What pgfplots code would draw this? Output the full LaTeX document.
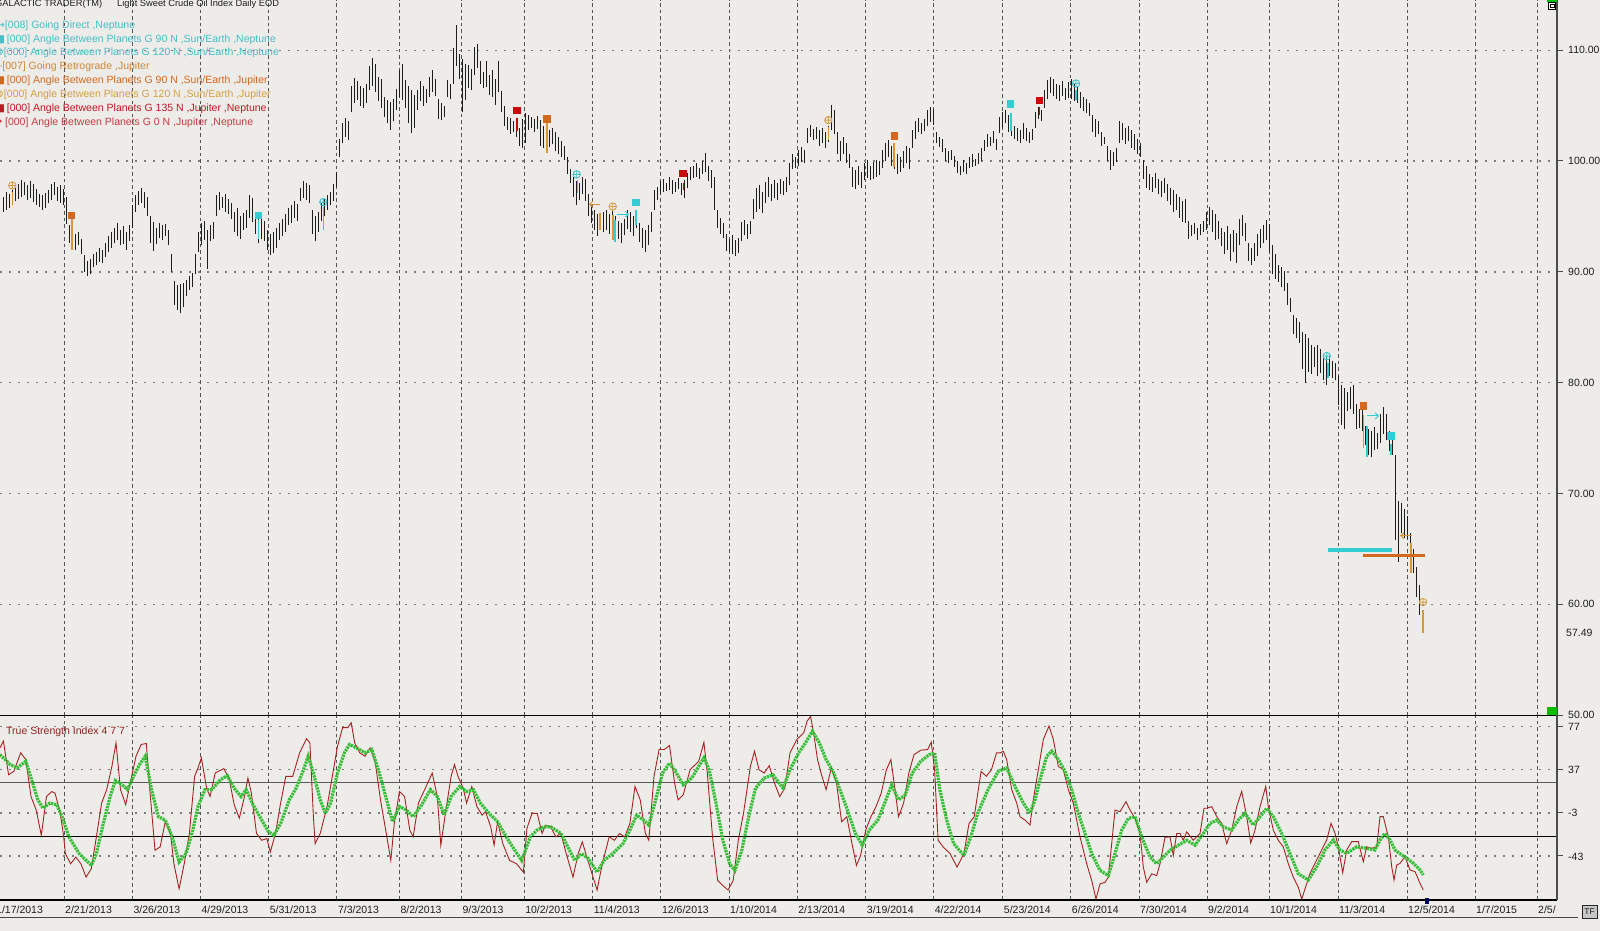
\documentclass[border=0pt]{standalone}
\usepackage{pgfplots}
\usepackage{pgfplotstable}
\pgfplotsset{compat=1.18}
\usetikzlibrary{arrows.meta}
\usepackage{fontspec}
\setmainfont{Liberation Sans}
\newfontfamily\symfont{DejaVu Sans}
\definecolor{bg}{RGB}{237,236,233}
\definecolor{gridc}{RGB}{85,85,85}
\definecolor{hgridc}{RGB}{125,125,125}
\definecolor{barc}{RGB}{30,30,30}
\definecolor{tsired}{RGB}{165,35,35}
\definecolor{tsigreen}{RGB}{55,190,55}
\definecolor{cyanM}{RGB}{51,204,210}
\definecolor{cyanT}{RGB}{70,190,200}
\definecolor{orgSq}{RGB}{210,105,30}
\definecolor{orgC}{RGB}{212,160,70}
\definecolor{orgLine}{RGB}{215,150,60}
\definecolor{orgT}{RGB}{208,135,55}
\definecolor{redSq}{RGB}{200,10,10}
\definecolor{redT}{RGB}{190,25,35}
\definecolor{txtc}{RGB}{30,30,30}

\pgfplotstableread{
i h l
1 96.8 95.4
2 97.2 95.6
3 97.0 95.8
4 97.4 96.0
5 97.6 96.4
6 97.9 96.6
7 98.3 96.8
8 98.1 96.9
9 97.8 96.5
10 98.2 96.7
11 97.9 96.3
12 97.5 96.0
13 97.0 95.9
14 96.9 95.6
15 97.1 95.8
16 97.4 96.2
17 97.9 96.5
18 98.1 96.9
19 97.7 96.4
20 97.8 96.2
21 97.5 96.0
22 96.8 94.3
23 94.2 92.6
24 93.8 92.2
25 93.4 92.0
26 93.6 92.4
27 93.0 91.6
28 91.5 90.0
29 91.0 89.6
30 91.2 89.8
31 91.6 90.4
32 91.8 90.6
33 92.2 90.9
34 92.0 90.8
35 92.6 91.3
36 93.2 91.8
37 93.6 92.2
38 94.0 92.6
39 94.4 92.9
40 93.8 92.4
41 94.1 92.5
42 93.6 92.0
43 94.2 92.8
44 96.0 94.0
45 96.9 95.4
46 97.3 96.0
47 97.6 96.2
48 97.2 95.8
49 96.8 95.0
50 95.0 92.6
51 94.5 91.9
52 94.0 92.5
53 94.4 93.1
54 94.2 92.9
55 94.3 93.2
56 93.8 92.4
57 91.6 90.0
58 89.2 87.0
59 88.8 86.6
60 88.9 86.3
61 89.0 86.8
62 89.3 87.8
63 89.6 88.4
64 89.9 88.6
65 91.6 89.8
66 93.6 91.8
67 94.4 92.4
68 94.6 92.9
69 93.8 90.3
70 94.2 92.8
71 94.5 93.0
72 96.9 95.0
73 97.2 95.6
74 96.8 95.8
75 97.0 95.4
76 96.6 95.2
77 96.2 94.8
78 95.4 93.6
79 95.8 93.2
80 95.0 93.0
81 95.3 93.8
82 95.6 94.0
83 96.9 94.9
84 96.7 94.5
85 95.0 93.4
86 95.3 92.6
87 95.0 93.0
88 94.6 92.8
89 93.8 92.0
90 93.4 91.5
91 93.6 91.7
92 94.0 92.2
93 94.4 92.9
94 94.8 93.2
95 95.2 93.6
96 95.8 94.2
97 96.0 94.4
98 96.4 94.9
99 96.1 94.6
100 97.6 96.4
101 98.2 96.7
102 98.0 96.5
103 97.8 96.2
104 95.6 93.4
105 95.0 92.8
106 95.4 93.6
107 96.2 94.6
108 96.6 95.0
109 96.9 95.6
110 97.2 96.0
111 97.9 96.4
112 99.0 97.7
113 102.0 100.4
114 103.4 101.6
115 103.9 102.2
116 103.6 101.9
117 106.8 104.4
118 107.5 105.2
119 107.2 105.5
120 106.8 105.0
121 106.6 104.8
122 107.0 105.2
123 108.6 106.4
124 109.3 106.8
125 108.8 106.2
126 107.6 105.4
127 107.4 104.8
128 105.8 104.0
129 105.5 103.4
130 105.3 102.8
131 105.6 103.6
132 106.5 104.6
133 108.2 105.8
134 108.8 105.5
135 107.3 104.8
136 106.8 103.4
137 106.4 102.5
138 106.0 103.0
139 106.4 104.6
140 107.2 105.4
141 106.8 105.0
142 106.5 105.2
143 107.6 105.8
144 108.2 106.2
145 107.4 105.9
146 105.6 103.8
147 105.2 103.7
148 105.0 104.0
149 107.3 105.8
150 107.0 105.6
151 110.2 107.0
152 112.3 108.6
153 109.7 107.4
154 109.2 104.4
155 108.8 105.5
156 108.7 106.6
157 108.3 106.4
158 110.3 107.8
159 110.6 108.4
160 109.0 107.0
161 108.0 106.6
162 109.0 106.7
163 107.8 106.0
164 108.2 105.8
165 107.4 105.1
166 109.0 106.2
167 106.3 104.4
168 105.0 103.2
169 104.0 102.8
170 103.9 102.4
171 103.6 102.6
172 103.3 102.2
173 103.0 101.4
174 103.8 101.2
175 104.3 101.6
176 104.2 102.8
177 104.0 103.0
178 103.8 102.6
179 104.1 102.9
180 103.7 101.4
181 103.2 101.2
182 103.6 101.9
183 102.8 101.3
184 103.0 101.5
185 102.6 100.9
186 102.2 100.6
187 101.8 100.4
188 101.4 100.1
189 100.4 98.8
190 99.3 98.0
191 98.6 96.8
192 98.2 96.0
193 98.0 96.5
194 98.6 97.0
195 98.4 96.4
196 97.0 95.0
197 96.0 94.4
198 95.6 93.8
199 95.2 93.2
200 95.0 94.0
201 95.4 93.6
202 95.6 93.8
203 95.2 93.4
204 95.5 93.0
205 95.0 92.8
206 94.6 93.0
207 94.4 92.6
208 94.8 93.3
209 95.6 93.9
210 95.4 93.6
211 95.0 93.2
212 95.6 94.0
213 94.4 92.7
214 94.0 92.2
215 93.8 91.8
216 94.2 92.4
217 95.4 93.6
218 97.4 95.6
219 97.7 96.5
220 98.2 97.0
221 98.4 97.2
222 98.0 97.3
223 98.6 97.4
224 98.3 97.0
225 98.1 97.2
226 98.5 97.5
227 98.0 96.9
228 98.3 96.7
229 98.9 97.6
230 99.5 98.3
231 99.6 98.5
232 99.8 98.6
233 99.4 98.4
234 100.0 98.8
235 100.7 99.0
236 99.6 98.2
237 99.2 97.6
238 98.6 95.6
239 95.6 94.0
240 94.9 93.4
241 94.4 93.1
242 93.4 91.9
243 93.0 91.8
244 93.3 91.6
245 92.9 91.4
246 93.1 91.7
247 94.5 92.8
248 94.7 93.3
249 94.3 93.0
250 94.6 93.4
251 96.6 94.8
252 97.6 95.4
253 97.8 95.7
254 97.2 95.3
255 98.1 96.2
256 98.6 96.8
257 97.9 96.4
258 98.3 96.7
259 98.0 96.5
260 98.4 97.0
261 98.2 96.9
262 98.6 97.2
263 99.8 97.8
264 100.6 99.3
265 100.4 99.4
266 101.0 99.6
267 101.3 99.9
268 101.0 99.8
269 103.0 101.6
270 103.3 102.2
271 102.9 101.9
272 103.1 102.0
273 102.8 101.4
274 103.0 101.6
275 102.6 101.2
276 103.2 101.7
277 105.1 102.8
278 104.6 102.4
279 102.6 100.6
280 101.8 100.0
281 102.2 100.6
282 101.6 99.8
283 100.6 99.4
284 99.5 97.7
285 99.2 97.5
286 99.6 97.8
287 99.0 97.6
288 99.8 98.3
289 100.1 98.5
290 99.6 98.3
291 99.9 98.4
292 100.1 98.6
293 100.0 98.7
294 101.0 99.4
295 101.6 100.0
296 101.9 100.4
297 101.4 99.6
298 101.2 99.3
299 100.6 98.8
300 100.4 99.0
301 100.9 99.4
302 101.4 99.8
303 101.2 99.3
304 102.8 101.2
305 103.6 102.0
306 103.9 102.6
307 103.4 102.4
308 103.8 102.7
309 104.6 103.2
310 104.9 103.5
311 104.7 103.3
312 102.6 101.6
313 102.2 101.3
314 102.0 100.8
315 101.2 100.0
316 100.9 99.8
317 101.0 100.1
318 100.5 99.5
319 100.0 98.9
320 99.6 98.7
321 100.1 99.0
322 99.8 98.8
323 100.4 99.4
324 100.6 99.5
325 100.2 99.6
326 100.7 99.7
327 101.2 100.0
328 101.9 100.9
329 102.4 101.3
330 102.2 101.4
331 102.7 101.6
332 102.0 101.0
333 104.0 102.5
334 104.4 103.0
335 104.6 103.4
336 104.2 102.6
337 103.6 102.3
338 103.2 102.0
339 103.0 101.8
340 102.8 101.6
341 103.4 102.0
342 103.0 101.8
343 102.6 101.6
344 102.9 101.9
345 104.4 103.0
346 104.9 103.8
347 104.6 103.6
348 106.4 104.8
349 107.3 105.6
350 107.6 106.1
351 107.4 105.9
352 107.0 105.6
353 106.9 105.4
354 107.2 105.9
355 106.6 105.5
356 107.1 105.7
357 107.4 105.6
358 107.0 105.4
359 106.8 105.2
360 106.2 104.8
361 105.8 104.5
362 105.6 104.3
363 105.2 104.1
364 104.2 102.6
365 103.8 102.2
366 103.6 102.4
367 102.6 101.4
368 102.2 101.5
369 101.4 100.0
370 101.0 99.2
371 100.8 99.6
372 101.2 99.9
373 103.6 101.6
374 103.4 101.9
375 103.0 101.5
376 103.2 101.8
377 102.8 101.2
378 102.4 101.0
379 102.0 100.6
380 101.6 100.4
381 100.1 98.4
382 99.6 97.6
383 98.8 97.4
384 98.6 97.2
385 98.9 97.6
386 98.4 97.0
387 98.2 96.8
388 98.5 97.1
389 97.9 96.4
390 97.6 96.0
391 97.4 95.4
392 97.0 95.6
393 96.8 94.9
394 96.4 94.5
395 96.6 94.4
396 94.6 93.0
397 94.2 93.2
398 94.4 93.4
399 94.0 92.9
400 94.3 93.3
401 94.6 93.6
402 95.4 93.8
403 95.9 94.2
404 95.6 93.6
405 95.2 92.9
406 94.6 93.0
407 94.0 92.3
408 93.6 91.6
409 94.1 92.0
410 93.4 91.0
411 93.8 91.8
412 93.5 90.8
413 94.8 92.4
414 95.1 93.2
415 94.4 92.8
416 92.6 91.0
417 92.2 90.6
418 92.6 91.0
419 93.4 91.4
420 93.9 92.2
421 94.2 92.6
422 94.7 92.9
423 94.3 91.8
424 92.4 89.8
425 91.6 89.4
426 90.6 89.1
427 90.4 88.6
428 90.1 88.3
429 89.0 87.0
430 87.6 86.4
431 86.1 84.4
432 85.8 84.0
433 85.5 83.6
434 84.6 81.2
435 84.4 80.0
436 84.0 81.0
437 83.4 80.8
438 83.2 81.4
439 83.4 80.6
440 83.0 80.9
441 82.6 80.2
442 82.4 79.8
443 82.4 80.6
444 82.0 80.4
445 81.8 80.2
446 80.6 78.0
447 79.8 76.2
448 79.5 75.8
449 79.2 77.4
450 79.6 77.6
451 79.8 77.2
452 78.1 75.8
453 77.6 75.9
454 77.8 75.6
455 76.1 74.4
456 75.8 73.5
457 75.6 73.3
458 76.0 73.9
459 75.5 74.0
460 77.2 74.6
461 77.8 75.4
462 77.2 74.8
463 75.6 73.8
464 74.8 73.5
465 73.5 65.8
466 69.3 63.8
467 69.1 66.4
468 68.6 66.0
469 68.0 65.9
470 66.4 64.4
471 65.0 62.8
472 63.4 60.7
473 61.7 59.0
474 59.4 58.6
}\pricedata

\pgfplotsset{
  chartaxis/.style={
    scale only axis, xmin=0, xmax=1557,
    axis line style={draw=none}, tick style={draw=none},
    xticklabels={}, yticklabels={},
    xtick={64,132.3,200.4,268.6,336.8,399.4,461.4,524.1,592.7,660.9,729,797.2,865.7,933.6,1002.7,1070.7,1139,1207,1269,1338,1407,1475,1537},
    xmajorgrids, ymajorgrids,
    every axis x grid/.append style={gridc, line width=0.9pt, dash pattern=on 3.5pt off 3pt},
    every axis y grid/.append style={hgridc, line width=1.3pt, dash pattern=on 1.6pt off 7.4pt},
  },
  evbar/.style={draw=none, error bars/.cd, y dir=plus, y explicit, error mark=none,
    error bar style={#1, line width=1.6pt}},
}

\begin{document}
\begin{tikzpicture}
\fill[bg] (0pt,0pt) rectangle (1600pt,931pt);

% ---------------- price panel ----------------
\begin{axis}[chartaxis, at={(0pt,215.9pt)}, anchor=south west,
  width=1557pt, height=715.1pt, ymin=50, ymax=114.54,
  ytick={60,70,80,90,100,110}]
\addplot[draw=none, error bars/.cd, y dir=plus, y explicit, error mark=none,
  error bar style={barc, line width=1pt}]
  table[x expr=3*\thisrow{i}, y=l, y error expr=\thisrow{h}-\thisrow{l}] {\pricedata};
% coloured event bars
\addplot[evbar=orgLine] table[x=x, y=l, y error expr=\thisrow{h}-\thisrow{l}] {
x h l
12.3 97.2 96.0
71.7 95.0 92.0
546.7 103.4 100.7
600 95.3 93.8
612.7 95.1 92.9
828.3 103.1 101.9
894 101.6 99.5
1363.3 77.1 74.1
1411 65.5 62.8
1422.7 59.5 57.4
};
\addplot[evbar=cyanM] table[x=x, y=l, y error expr=\thisrow{h}-\thisrow{l}] {
x h l
258.3 94.7 93.0
323.3 95.9 93.8
577.3 98.3 97.1
615 94.7 92.7
635.7 95.6 94.2
1011 104.3 102.7
1076 106.4 105.5
1327.7 81.8 80.4
1366.7 76.1 73.3
1390.7 74.5 73.5
};
\addplot[evbar=redSq] table[x=x, y=l, y error expr=\thisrow{h}-\thisrow{l}] {
x h l
516.7 103.9 102.7
683.3 98.0 97.4
1039.3 104.9 104.2
};
% horizontal level lines
\addplot[cyanM, line width=3.2pt] coordinates {(1328,64.9) (1392,64.9)};
\addplot[orgSq, line width=3.2pt] coordinates {(1363,64.4) (1425,64.4)};
% markers
\addplot[only marks, mark=square*, mark size=3.3pt, color=orgSq] coordinates {(71,95.1) (546.7,103.8) (894,102.3) (1363.3,77.9)};
\addplot[only marks, mark=square*, mark size=3.3pt, color=cyanM] coordinates {(258.3,95.1) (635.7,96.3) (1010,105.2) (1390.7,75.2)};
\addplot[only marks, mark=square*, mark size=3.3pt, color=redSq] coordinates {(516.7,104.6) (682.7,98.9) (1039.3,105.5)};
\addplot[only marks, mark=oplus, mark size=3.7pt, line width=0.9pt, color=orgC] coordinates {(12.3,97.8) (612.7,95.9) (828.3,103.7) (1423,60.2)};
\addplot[only marks, mark=oplus, mark size=3.7pt, line width=0.9pt, color=cyanT] coordinates {(323.3,96.3) (576.7,98.8) (1076,107.0) (1326.7,82.4)};
% arrows
\addplot[orgLine, line width=1pt, -{Straight Barb[length=3pt,width=6pt]}] coordinates {(600,96.1) (589,96.1)};
\addplot[orgLine, line width=1pt, -{Straight Barb[length=3pt,width=6pt]}] coordinates {(1412,66.2) (1400,66.2)};
\addplot[cyanM, line width=1pt, -{Straight Barb[length=3pt,width=6pt]}] coordinates {(617,95.2) (629,95.2)};
\addplot[cyanM, line width=1pt, -{Straight Barb[length=3pt,width=6pt]}] coordinates {(1367,77.0) (1379,77.0)};
\end{axis}

% ---------------- TSI panel ----------------
\begin{axis}[chartaxis, at={(0pt,31pt)}, anchor=south west,
  width=1557pt, height=184pt, ymin=-83.8, ymax=86.9,
  ytick={77,37,-3,-43}]
\addplot[color=gray!70!black, line width=1.1pt] coordinates {(0,25) (1557,25)};
\addplot[color=black, line width=1.1pt] coordinates {(0,-25) (1557,-25)};
\addplot[color=tsired, line width=0.9pt] coordinates {
(0,57.4)(3.4,63.6)(8.6,32.4)(13.8,35.5)(20.7,52.7)(25.8,46.5)(31,12.2)(36.2,-0.3)(41.3,-23.7)(46.5,12.2)(51.7,16.8)(55.1,15.3)(60.3,-3.4)(63.7,-25.2)(65.4,-40.8)(70.6,-50.2)(75.8,-44)(80.9,-50.2)(86.1,-62.6)(91.3,-54.8)(96.4,-25.2)(101.6,6.1)(106.7,18.6)(111.9,40.2)(116,62)(120.5,18.6)(125.7,4.6)(130.9,27.8)(136,49.6)(141.2,60.5)(146.3,61.4)(149.8,18.6)(155,-37.7)(160.1,-34.6)(165.3,-11.2)(170.5,-22.1)(173.9,-50.2)(179.1,-73.5)(184.2,-50.2)(189.4,-22.1)(194.6,30.9)(198,38.7)(201.4,48)(206.6,19.9)(210,12.2)(215.2,34)(223.8,38.1)(229,29.3)(234.2,4.6)(239.3,-7.9)(244.5,12.2)(247.9,29.3)(251.4,15.3)(256.5,-22.1)(261.7,-28.4)(266.9,-26.8)(270.3,-39.3)(275.5,-22.1)(280.6,6.1)(285.8,30.9)(292.7,30.9)(299.6,52.7)(306.5,65.8)(309.9,62)(313.4,-6.5)(315.1,-31.5)(320.2,-22.1)(327.1,3)(332.3,30.9)(337.5,58.9)(342.6,76.1)(347.8,76.1)(351.2,80.7)(354.7,62)(359.8,52.7)(365,49.6)(370.2,57.4)(375.3,43.3)(380.5,9.1)(385.7,-19)(390.8,-47)(394.3,-12.8)(399.4,16.8)(404.6,12.2)(409.8,-19)(413.2,-25.2)(418.4,6.1)(425.3,19.9)(432.2,34)(437.3,12.2)(440.8,-33)(445.9,-0.3)(451.1,30.9)(454.5,41.8)(458,30.9)(463.2,19.9)(466.6,6.1)(471.8,21.5)(476.9,2.8)(482.1,-5)(485.5,-1.9)(490.7,-15.9)(494.1,-33)(497.6,-11.2)(502.8,-31.5)(509.6,-47.1)(516.5,-50.2)(523.4,-58)(526.9,-17.5)(532,-3.4)(537.2,-3.4)
(542.1,-22.1)(545.5,-14.3)(550.7,-15.9)(555.8,-25.2)(561,-22.1)(566.2,-40.8)(573,-62.6)(578.2,-40.8)(582.3,-29.9)(586.8,-43.9)(592,-59.5)(597.1,-74.5)(602.3,-50.2)(609.2,-25.2)(614.4,-28.4)(619.5,-22.1)(624.7,-25.2)(629.9,-12.8)(635,21.5)(640.2,9.1)(645.4,-22.1)(648.8,-28.4)(654,30.9)(659.1,55.8)(664.3,55.8)(669.5,59.5)(674.6,24.6)(678.1,9.1)(683.2,13.7)(690.1,37.1)(698.7,44.9)(703.9,62.5)(707.3,34)(712.5,-25.2)(717.7,-65.8)(722.8,-70.4)(728,-74.5)(733.2,-65.8)(738.3,-28.4)(743.5,-3.4)(750.4,40.2)(754.5,54.2)(759,37.1)(764.2,34)(769.3,40.8)(774.5,24.6)(779.7,12.2)(784.8,19.9)(790,52.7)(796.9,65.2)(803.8,71.4)(807.2,82.3)(810.6,86.5)(814.1,68.3)(817.5,46.5)(821,34)(826.1,18.6)(831.3,38.7)(836.5,24.6)(841.6,-11.2)(846.8,-6.5)(852,-31.5)(856.4,-51.7)(860.6,-42.4)(865.7,-19)(870.9,-6.5)(876.1,3)(881.2,15.3)(886.4,37.1)(890.9,46.5)(895,18.6)(898.5,-6.5)(903.6,6.1)(908.8,34)(914,51.1)(920.8,55.2)(927.7,55.8)(931.2,62.7)(934.6,37.1)(938.1,-28.4)(943.2,-34.6)(950.1,-40.8)(957,-53.3)(963.9,-40.8)(969,-12.8)(974.2,-6.5)(981.1,35.6)(986.3,30.9)(991.4,37.1)(996.6,52.7)
(1000,52.7)(1003.3,54.2)(1006.7,46.5)(1011.7,18.6)(1016.7,6.1)(1020,-6.5)(1025,-9.7)(1030,-14.3)(1033.3,9.1)(1038.3,37.1)(1043.3,65.2)(1049,77.6)(1053.3,65.2)(1058.3,40.2)(1063.3,37.1)(1068.3,18.6)(1073.3,6.1)(1080,-25.2)(1086.7,-50.2)(1091.7,-65.8)(1096,-82.9)(1100,-68.9)(1105,-67.4)(1108.3,-62.7)(1111.7,-31.5)(1115,-0.3)(1120,-1.9)(1126,7.5)(1130,-0.3)(1135,-7.9)(1140,-22.1)(1143.3,-53.3)(1146.7,-67.4)(1151.7,-59.5)(1156.7,-61.1)(1160,-50.2)(1165,-25.6)(1170,-25.2)(1173.3,-42.4)(1176.7,-22.1)(1180,-22.1)(1183.3,-28.4)(1186.7,-20.6)(1193.3,-28.4)(1200,-22.1)(1204,1.3)(1206.7,1.3)(1211.7,2.8)(1216.7,-6.5)(1221.7,-12.8)(1226.7,-31.5)(1231.7,-19)(1236.7,2.8)(1241.7,17)(1246.7,-6.5)(1250.7,-30.9)(1255,-19)(1260,2.8)(1265.7,21.5)(1268.3,2.8)(1273.3,-19)(1278.3,-28.4)(1283.3,-34.6)(1288.3,-50.2)(1293.3,-62.7)(1298.3,-72)(1301.7,-83)
(1310,-59)(1316.7,-46.7)(1321.7,-37.4)(1326.7,-28.2)(1331,-12.7)(1335,-21.9)(1338.3,-34.4)(1342.7,-58.5)(1346.7,-37.4)(1351.7,-29.7)(1358.3,-29.7)(1363.3,-48.3)(1366.7,-34.4)(1371.7,-35.9)(1376.7,-34.4)(1380,-6.5)(1383.3,-6.5)(1388.3,-25.1)(1391.7,-52.9)(1394,-65.3)(1396.7,-51.4)(1400,-49.8)(1405,-43.6)(1410,-56)(1415,-57.5)(1420,-68.3)(1423.3,-74.5)
};
\addplot[color=tsigreen, line width=3.2pt, dash pattern=on 2.2pt off 0.9pt] coordinates {
(0,51.1)(10.3,41.8)(17.2,38.7)(25.8,44.9)(32.7,24.6)(37.9,9.1)(43,1.3)(49.9,6.1)(56.8,4.6)(62,-6.5)(68.9,-25.2)(79.2,-40.8)(91.3,-51.7)(96.4,-40.8)(103.3,-12.8)(110.2,12.2)(115.4,27.1)(122.2,23.1)(127.4,18.6)(134.3,32.4)(139.5,41.8)(145.3,49.6)(151.5,18.6)(158.4,-6.5)(165.3,-9.7)(172.2,-25.2)(179.1,-48.6)(186,-40.8)(192.8,-19)(198,3)(204.9,18.6)(211.8,18.6)(220.4,27.8)(227.3,31.6)(234.2,19.9)(241,12.2)(246.2,18.6)(253.1,4.6)(261.7,-9.7)(268.6,-20.6)(273.8,-23.7)(280.6,-12.8)(289.3,9.1)(296.1,19.9)(303,35.6)(308.2,49.6)(313.4,34)(320.2,9.1)(325.4,-3.4)(330.6,6.1)(337.5,34)(344.4,52.7)(349.5,60.5)(356.4,57.4)(365,52.7)(371.9,55.8)(378.8,35.6)(385.7,12.2)(392.6,-11.2)(399.4,3)(406.3,-0.3)(413.2,-6.5)(421.8,4.6)(430.4,18.6)(437.3,12.2)(444.2,-5)(451.1,12.2)(459.7,21.5)(466.6,16.8)(473.5,18.3)(480.4,6.1)(489,-3.4)(497.6,-11.2)(506.2,-25.2)(514.8,-37.7)(521.7,-47.1)(530.3,-25.2)(536.9,-19)(543.8,-15.9)(550.7,-15.9)(561,-22.1)(567.9,-34.6)(574.8,-47.1)(581.7,-40.8)(588.5,-45.5)(597.1,-58)(604,-47.1)(612.6,-40.8)(623,-31.5)(629.9,-19)(636.7,-5)(643.6,-9.7)(648.8,-14.3)(655.7,9.1)(662.6,34)(669.5,43.3)(676.4,34)(683.2,23.1)(691.8,29.3)(698.7,40.2)(703.9,48)(709.1,37.1)(716,6.1)(722.8,-28.4)(729.7,-50.2)(734.9,-56.4)(741.8,-37.7)(748.7,-6.5)(755.5,19.9)(764.2,29.3)(772.8,32.4)(783.1,19.9)(790,37.1)(798.6,52.7)(805.5,62)(812.4,72.9)(819.3,62)(826.1,46.5)(833,35.6)(839.9,18.6)(846.8,1.3)(855.4,-22.1)(862.3,-33)(869.2,-19)(877.8,-9.7)(884.7,6.1)(891.6,23.1)(898.5,9.1)(905.3,13.7)(912.2,34)(920.8,44.9)(929.4,51.1)(934.6,52.7)(939.8,18.6)(946.7,-9.7)(953.6,-31.5)(963.9,-42.4)(970.8,-25.2)(977.7,-3.4)(988,18.6)(998.3,35.6)(1006.7,38.7)(1015,21.5)(1023.3,6.1)(1030,-3.4)(1035,9.1)(1040,27.8)(1046.7,49.6)(1051.7,54.2)(1058.3,46.5)(1065,35.6)(1071.7,18.6)(1078.3,-3.4)(1085,-22.1)(1091.7,-40.8)(1100,-56.4)(1108.3,-61.1)(1115,-40.8)(1121.7,-19)(1128.3,-8.1)(1135,-6.5)(1141.7,-25.2)(1150,-43.9)(1156.7,-50.2)(1163.3,-43.9)(1170,-37.7)(1178.3,-33)(1186.7,-28.4)(1195,-33)(1203.3,-22.1)(1210,-12.8)(1216.7,-9.7)(1223.3,-15.9)(1231.7,-19)(1238.3,-9.7)(1245,-3.4)(1253.3,-14.3)(1260,-6.5)(1266.7,1.3)(1273.3,-6.5)(1281.7,-22.1)(1290,-40.8)(1298.3,-59.5)(1308.3,-65.3)(1316.7,-52.9)(1325,-37.4)(1333.3,-28.2)(1340,-37.4)(1346.7,-40.5)(1356.7,-34.4)(1366.7,-35.9)(1375,-37.4)(1380,-28.2)(1385,-22)(1390,-28.2)(1395,-37.4)(1401.7,-42)(1406.7,-45.1)(1413.3,-49.7)(1420,-55.9)(1423.3,-60.5)
};
\end{axis}

\begin{scope}[x=1pt,y=1pt]
% ---------------- frame lines ----------------
\draw[black, line width=1.2pt] (0,215.5) -- (1557,215.5);
\draw[black, line width=1.2pt] (0,31) -- (1557,31);
\draw[gray!55!black, line width=1pt] (0,13) -- (1578,13);
\draw[gray!60!black, line width=1.4pt] (1557,31) -- (1557,931);
\foreach \yy in {880.8,770,659.2,548.4,437.6,326.8,215.9,204.3,161,118.7,75}
  \draw[gray!60!black, line width=1pt] (1557,\yy) -- (1563,\yy);

% ---------------- right labels ----------------
\begin{scope}[every node/.style={anchor=base west, inner sep=0pt, font=\fontsize{10.5}{12}\selectfont, text=txtc}]
\node at (1568,877.05) {110.00};
\node at (1568,766.25) {100.00};
\node at (1568,655.45) {90.00};
\node at (1568,544.65) {80.00};
\node at (1568,433.85) {70.00};
\node at (1568,323.05) {60.00};
\node at (1566,294.55) {57.49};
\node at (1568,212.25) {50.00};
\node at (1568,200.55) {77};
\node at (1568,157.25) {37};
\node at (1568,114.25) {-3};
\node at (1568,70.25) {-43};
% date labels
\node at (-4,17.2) {1/17/2013};
\node at (65,17.2) {2/21/2013};
\node at (133.3,17.2) {3/26/2013};
\node at (201.4,17.2) {4/29/2013};
\node at (269.6,17.2) {5/31/2013};
\node at (337.8,17.2) {7/3/2013};
\node at (400.4,17.2) {8/2/2013};
\node at (462.4,17.2) {9/3/2013};
\node at (525.1,17.2) {10/2/2013};
\node at (593.7,17.2) {11/4/2013};
\node at (661.9,17.2) {12/6/2013};
\node at (730,17.2) {1/10/2014};
\node at (798.2,17.2) {2/13/2014};
\node at (866.7,17.2) {3/19/2014};
\node at (934.6,17.2) {4/22/2014};
\node at (1003.7,17.2) {5/23/2014};
\node at (1071.7,17.2) {6/26/2014};
\node at (1140,17.2) {7/30/2014};
\node at (1208,17.2) {9/2/2014};
\node at (1270,17.2) {10/1/2014};
\node at (1339,17.2) {11/3/2014};
\node at (1408,17.2) {12/5/2014};
\node at (1476,17.2) {1/7/2015};
\end{scope}
\begin{scope}
\clip (1530,0) rectangle (1555,40);
\node[anchor=base west, inner sep=0pt, font=\fontsize{10.5}{12}\selectfont, text=txtc] at (1538,17.2) {2/5/2015};
\end{scope}

% ---------------- legend texts ----------------
\begin{scope}[every node/.style={anchor=base west, inner sep=0pt, font=\fontsize{10.5}{12}\selectfont}]
\node[text=txtc, font=\fontsize{9.3}{11}\selectfont] at (-5,924.5) {GALACTIC TRADER(TM)};
\node[text=txtc, font=\fontsize{9.3}{11}\selectfont] at (117,924.5) {Light Sweet Crude Oil Index Daily EOD};
\node[text=cyanT] at (-4,902.2) {{\symfont →}[008] Going Direct ,Neptune};
\node[text=cyanT] at (-5,888.2) {{\symfont ■}\,[000] Angle Between Planets G 90 N ,Sun/Earth ,Neptune};
\node[text=cyanT] at (-5,875.2) {{\symfont ⊗}[000] Angle Between Planets G 120 N ,Sun/Earth ,Neptune};
\node[text=orgT] at (-3,861.2) {{\symfont –}[007] Going Retrograde ,Jupiter};
\node[text=orgSq] at (-5,847.2) {{\symfont ■}\,[000] Angle Between Planets G 90 N ,Sun/Earth ,Jupiter};
\node[text=orgC] at (-5,833.2) {{\symfont ⊗}[000] Angle Between Planets G 120 N ,Sun/Earth ,Jupiter};
\node[text=redT] at (-5,819.2) {{\symfont ■}\,[000] Angle Between Planets G 135 N ,Jupiter ,Neptune};
\node[text=redT!85!white] at (-3,805.5) {{\symfont •}\,[000] Angle Between Planets G 0 N ,Jupiter ,Neptune};
\node[text=tsired!90!black] at (6,196.5) {True Strength Index 4 7 7};
\end{scope}

% ---------------- small widgets ----------------
\fill[green!75!black] (1547,215.9) rectangle (1557,223.5);
\fill[green!75!black] (1547,929) rectangle (1557,931);
\draw[black, fill=white, line width=0.8pt] (1548.5,922) rectangle (1555.5,928.5);
\draw[black, line width=0.6pt] (1550,924) rectangle (1554,926.5);
\fill[blue!40!black] (1425,27) rectangle (1428.5,33);
\draw[gray!30!black, fill=gray!45, line width=0.8pt] (1582,13) rectangle (1597,25.5);
\node[inner sep=0pt, font=\fontsize{8.5}{10}\selectfont, text=txtc] at (1589.5,19.2) {TF};
\end{scope}
\pgfresetboundingbox
\useasboundingbox (0pt,0pt) rectangle (1600pt,931pt);
\end{tikzpicture}
\end{document}
